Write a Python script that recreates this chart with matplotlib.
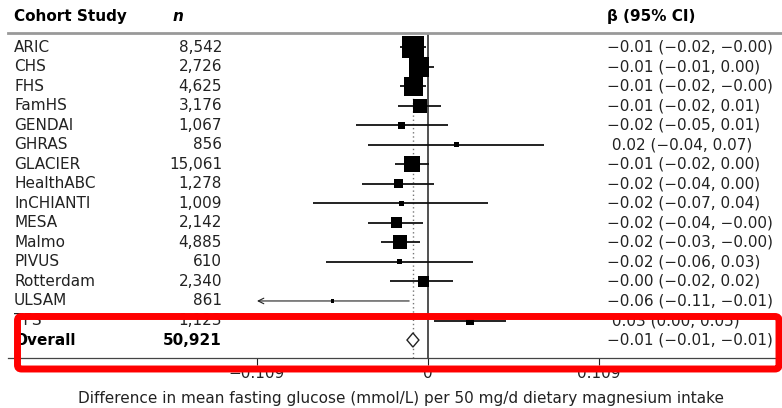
import numpy as np
import matplotlib
matplotlib.use("Agg")
import matplotlib.pyplot as plt
from matplotlib import transforms
from matplotlib.lines import Line2D
from matplotlib.patches import FancyBboxPatch

plt.rcParams['font.family'] = ['DejaVu Sans']

# cohort data
studies = ["ARIC", "CHS", "FHS", "FamHS", "GENDAI", "GHRAS", "GLACIER",
           "HealthABC", "InCHIANTI", "MESA", "Malmo", "PIVUS", "Rotterdam",
           "ULSAM", "TFS"]
n_labels = ["8,542", "2,726", "4,625", "3,176", "1,067", "856", "15,061",
            "1,278", "1,009", "2,142", "4,885", "610", "2,340", "861", "1,123"]
beta = [-0.0096, -0.006, -0.009, -0.005, -0.017, 0.018, -0.010,
        -0.019, -0.017, -0.020, -0.018, -0.018, -0.003, -0.061, 0.027]
ci_lo = [-0.018, -0.012, -0.018, -0.019, -0.046, -0.038, -0.021,
         -0.042, -0.073, -0.038, -0.030, -0.065, -0.024, -0.110, 0.004]
ci_hi = [-0.001, 0.004, -0.001, 0.008, 0.013, 0.074, 0.0005,
         0.004, 0.038, -0.003, -0.005, 0.029, 0.016, -0.012, 0.050]
weight = [20.1, 16.6, 15.0, 8.1, 2.0, 1.0, 10.6, 3.4, 1.0, 5.0, 8.1,
          1.0, 5.0, 0.4, 2.7]
ci_labels = ["\u22120.01 (\u22120.02, \u22120.00)", "\u22120.01 (\u22120.01, 0.00)",
             "\u22120.01 (\u22120.02, \u22120.00)", "\u22120.01 (\u22120.02, 0.01)",
             "\u22120.02 (\u22120.05, 0.01)", " 0.02 (\u22120.04, 0.07)",
             "\u22120.01 (\u22120.02, 0.00)", "\u22120.02 (\u22120.04, 0.00)",
             "\u22120.02 (\u22120.07, 0.04)", "\u22120.02 (\u22120.04, \u22120.00)",
             "\u22120.02 (\u22120.03, \u22120.00)", "\u22120.02 (\u22120.06, 0.03)",
             "\u22120.00 (\u22120.02, 0.02)", "\u22120.06 (\u22120.11, \u22120.01)",
             " 0.03 (0.00, 0.05)"]

overall_n = "50,921"
overall_beta = -0.0096
overall_lo = -0.0134
overall_hi = -0.0058
overall_label = "\u22120.01 (\u22120.01, \u22120.01)"

xticks = [-0.109, 0, 0.109]
xtick_labels = ["\u22120.109", "0", "0.109"]
xlabel = "Difference in mean fasting glucose (mmol/L) per 50 mg/d dietary magnesium intake"

W, H = 782, 408
fig = plt.figure(figsize=(W / 100, H / 100), dpi=100)
ax = fig.add_axes([257 / W, 1 - 358 / H, 342 / W, 325 / H])
ax.set_xlim(-0.109, 0.109)
ax.set_ylim(15.92, -0.72)
for s in ax.spines.values():
    s.set_visible(False)
ax.set_yticks([])
ax.set_xticks(xticks)
ax.set_xticklabels(xtick_labels)
ax.tick_params(axis='x', direction='out', length=5, width=0.8, labelsize=11,
               pad=1, colors='#222222')

rows = np.arange(len(studies))
fs = 11
tr = transforms.blended_transform_factory(fig.transFigure, ax.transData)

# reference lines
ax.axvline(0, color='#222222', lw=1.1, zorder=2)
ax.axvline(overall_beta, color='#777777', lw=1.0, ls=(0, (1, 2)), zorder=1)

# confidence intervals and squares
for i in rows:
    if ci_lo[i] < -0.109:
        ax.annotate('', xy=(-0.109, i), xytext=(ci_hi[i], i),
                    arrowprops=dict(arrowstyle='->', lw=0.8, color='#222222',
                                    shrinkA=0, shrinkB=0))
    else:
        ax.hlines(i, ci_lo[i], ci_hi[i], color='#111111', lw=1.3, zorder=3)
side_px = 22 * np.sqrt(np.array(weight) / 20.1)
ax.scatter(beta, rows, marker='s', s=(side_px * 0.72) ** 2, color='black',
           zorder=4, linewidths=0)

# overall diamond
yo = len(studies)
ax.fill([overall_lo, overall_beta, overall_hi, overall_beta],
        [yo, yo - 0.36, yo, yo + 0.36], facecolor='white',
        edgecolor='#222222', lw=1.0, zorder=4)

# table text
fig.text(14 / W, -1.55, "Cohort Study", transform=tr, fontsize=fs,
         fontweight='bold', va='center', ha='left')
fig.text(173 / W, -1.55, "n", transform=tr, fontsize=fs, fontweight='bold',
         style='italic', va='center', ha='left')
fig.text(607 / W, -1.55, "\u03b2 (95% CI)", transform=tr, fontsize=fs,
         fontweight='bold', va='center', ha='left')
for i in rows:
    fig.text(14 / W, i, studies[i], transform=tr, fontsize=fs, va='center',
             color='#222222')
    fig.text(222 / W, i, n_labels[i], transform=tr, fontsize=fs, va='center',
             ha='right', color='#222222')
    fig.text(607 / W, i, ci_labels[i], transform=tr, fontsize=fs, va='center',
             color='#222222')
fig.text(14 / W, yo, "Overall", transform=tr, fontsize=fs, va='center',
         fontweight='bold')
fig.text(222 / W, yo, overall_n, transform=tr, fontsize=fs, va='center',
         ha='right', fontweight='bold')
fig.text(607 / W, yo, overall_label, transform=tr, fontsize=fs, va='center',
         color='#222222')

# horizontal rules
fig.add_artist(Line2D([8 / W, 1], [1 - 33 / H] * 2, transform=fig.transFigure,
                      color='#999999', lw=2))
fig.add_artist(Line2D([8 / W, 1], [1 - 358 / H] * 2, transform=fig.transFigure,
                      color='#444444', lw=0.9))

fig.text(401 / W, 1 - 399 / H, xlabel, fontsize=fs, ha='center', va='center',
         color='#222222')

# red highlight box around the last rows
box = FancyBboxPatch((17.5, H - 369), 761.5, 52.5,
                     boxstyle="round,pad=0,rounding_size=4",
                     transform=transforms.IdentityTransform(),
                     facecolor='none', edgecolor='#ff0000', lw=5.0, zorder=10)
fig.add_artist(box)

fig.savefig("out.png", dpi=100)
